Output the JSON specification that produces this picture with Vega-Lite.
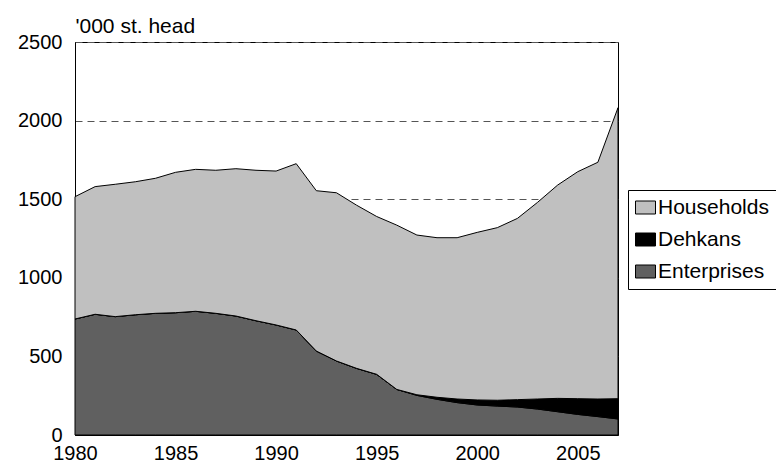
{
  "$schema": "https://vega.github.io/schema/vega-lite/v6.json",
  "width": 543,
  "height": 393,
  "autosize": {"type": "none"},
  "padding": {"left": 75, "top": 42, "right": 158, "bottom": 31},
  "background": "white",
  "config": {
    "view": {"stroke": "black", "strokeWidth": 1},
    "font": "Liberation Sans",
    "axis": {"labelFont": "Liberation Sans", "titleFont": "Liberation Sans", "labelColor": "black", "titleColor": "black"},
    "legend": {"labelFont": "Liberation Sans", "labelColor": "black"}
  },
  "data": {
    "values": [
      {"year": 1980, "sector": "Enterprises", "value": 738}, {"year": 1980, "sector": "Dehkans", "value": 0}, {"year": 1980, "sector": "Households", "value": 778},
      {"year": 1981, "sector": "Enterprises", "value": 768}, {"year": 1981, "sector": "Dehkans", "value": 0}, {"year": 1981, "sector": "Households", "value": 812},
      {"year": 1982, "sector": "Enterprises", "value": 753}, {"year": 1982, "sector": "Dehkans", "value": 0}, {"year": 1982, "sector": "Households", "value": 842},
      {"year": 1983, "sector": "Enterprises", "value": 765}, {"year": 1983, "sector": "Dehkans", "value": 0}, {"year": 1983, "sector": "Households", "value": 846},
      {"year": 1984, "sector": "Enterprises", "value": 774}, {"year": 1984, "sector": "Dehkans", "value": 0}, {"year": 1984, "sector": "Households", "value": 859},
      {"year": 1985, "sector": "Enterprises", "value": 778}, {"year": 1985, "sector": "Dehkans", "value": 0}, {"year": 1985, "sector": "Households", "value": 893},
      {"year": 1986, "sector": "Enterprises", "value": 787}, {"year": 1986, "sector": "Dehkans", "value": 0}, {"year": 1986, "sector": "Households", "value": 903},
      {"year": 1987, "sector": "Enterprises", "value": 774}, {"year": 1987, "sector": "Dehkans", "value": 0}, {"year": 1987, "sector": "Households", "value": 910},
      {"year": 1988, "sector": "Enterprises", "value": 757}, {"year": 1988, "sector": "Dehkans", "value": 0}, {"year": 1988, "sector": "Households", "value": 937},
      {"year": 1989, "sector": "Enterprises", "value": 727}, {"year": 1989, "sector": "Dehkans", "value": 0}, {"year": 1989, "sector": "Households", "value": 957},
      {"year": 1990, "sector": "Enterprises", "value": 700}, {"year": 1990, "sector": "Dehkans", "value": 0}, {"year": 1990, "sector": "Households", "value": 979},
      {"year": 1991, "sector": "Enterprises", "value": 668}, {"year": 1991, "sector": "Dehkans", "value": 0}, {"year": 1991, "sector": "Households", "value": 1058},
      {"year": 1992, "sector": "Enterprises", "value": 534}, {"year": 1992, "sector": "Dehkans", "value": 0}, {"year": 1992, "sector": "Households", "value": 1020},
      {"year": 1993, "sector": "Enterprises", "value": 471}, {"year": 1993, "sector": "Dehkans", "value": 0}, {"year": 1993, "sector": "Households", "value": 1070},
      {"year": 1994, "sector": "Enterprises", "value": 424}, {"year": 1994, "sector": "Dehkans", "value": 0}, {"year": 1994, "sector": "Households", "value": 1038},
      {"year": 1995, "sector": "Enterprises", "value": 386}, {"year": 1995, "sector": "Dehkans", "value": 0}, {"year": 1995, "sector": "Households", "value": 1004},
      {"year": 1996, "sector": "Enterprises", "value": 290}, {"year": 1996, "sector": "Dehkans", "value": 0}, {"year": 1996, "sector": "Households", "value": 1045},
      {"year": 1997, "sector": "Enterprises", "value": 252}, {"year": 1997, "sector": "Dehkans", "value": 4}, {"year": 1997, "sector": "Households", "value": 1016},
      {"year": 1998, "sector": "Enterprises", "value": 227}, {"year": 1998, "sector": "Dehkans", "value": 13}, {"year": 1998, "sector": "Households", "value": 1015},
      {"year": 1999, "sector": "Enterprises", "value": 206}, {"year": 1999, "sector": "Dehkans", "value": 23}, {"year": 1999, "sector": "Households", "value": 1026},
      {"year": 2000, "sector": "Enterprises", "value": 191}, {"year": 2000, "sector": "Dehkans", "value": 32}, {"year": 2000, "sector": "Households", "value": 1066},
      {"year": 2001, "sector": "Enterprises", "value": 184}, {"year": 2001, "sector": "Dehkans", "value": 37}, {"year": 2001, "sector": "Households", "value": 1098},
      {"year": 2002, "sector": "Enterprises", "value": 178}, {"year": 2002, "sector": "Dehkans", "value": 47}, {"year": 2002, "sector": "Households", "value": 1153},
      {"year": 2003, "sector": "Enterprises", "value": 165}, {"year": 2003, "sector": "Dehkans", "value": 64}, {"year": 2003, "sector": "Households", "value": 1251},
      {"year": 2004, "sector": "Enterprises", "value": 148}, {"year": 2004, "sector": "Dehkans", "value": 85}, {"year": 2004, "sector": "Households", "value": 1357},
      {"year": 2005, "sector": "Enterprises", "value": 131}, {"year": 2005, "sector": "Dehkans", "value": 100}, {"year": 2005, "sector": "Households", "value": 1444},
      {"year": 2006, "sector": "Enterprises", "value": 117}, {"year": 2006, "sector": "Dehkans", "value": 112}, {"year": 2006, "sector": "Households", "value": 1506},
      {"year": 2007, "sector": "Enterprises", "value": 102}, {"year": 2007, "sector": "Dehkans", "value": 129}, {"year": 2007, "sector": "Households", "value": 1851}
    ]
  },
  "transform": [
    {"calculate": "indexof(['Enterprises', 'Dehkans', 'Households'], datum.sector)", "as": "stackRank"}
  ],
  "mark": {"type": "area", "stroke": "black", "strokeWidth": 1, "opacity": 1, "fillOpacity": 1},
  "encoding": {
    "x": {
      "field": "year", "type": "quantitative",
      "scale": {"domain": [1980, 2007], "nice": false, "zero": false},
      "axis": {
        "values": [1980, 1985, 1990, 1995, 2000, 2005],
        "format": "d", "title": null, "grid": false, "ticks": false,
        "domainColor": "black", "labelFontSize": 20, "labelPadding": 8,
        "labelFlush": false
      }
    },
    "y": {
      "field": "value", "type": "quantitative", "stack": "zero",
      "scale": {"domain": [0, 2500], "nice": false},
      "axis": {
        "values": [0, 500, 1000, 1500, 2000, 2500], "format": "d",
        "title": "'000 st. head", "titleAngle": 0, "titleAlign": "left", "titleBaseline": "alphabetic",
        "titleX": 0, "titleY": -10, "titleFontSize": 21, "titleFontWeight": "normal",
        "grid": true, "gridDash": [7, 5], "gridColor": "#555555", "gridWidth": 1,
        "ticks": false, "domainColor": "black", "labelFontSize": 20, "labelPadding": 13
      }
    },
    "order": {"field": "stackRank", "type": "quantitative", "sort": "ascending"},
    "color": {
      "field": "sector", "type": "nominal",
      "scale": {"domain": ["Households", "Dehkans", "Enterprises"], "range": ["#c0c0c0", "#000000", "#606060"]},
      "legend": {
        "title": null, "orient": "none", "legendX": 553, "legendY": 148,
        "strokeColor": "black", "fillColor": "white", "padding": 7,
        "labelFontSize": 21, "labelOffset": 2, "rowPadding": 10,
        "symbolType": "M-1,-0.65L1,-0.65L1,0.65L-1,0.65Z", "symbolSize": 400,
        "symbolStrokeColor": "black", "symbolStrokeWidth": 1, "symbolOpacity": 1
      }
    }
  }
}
